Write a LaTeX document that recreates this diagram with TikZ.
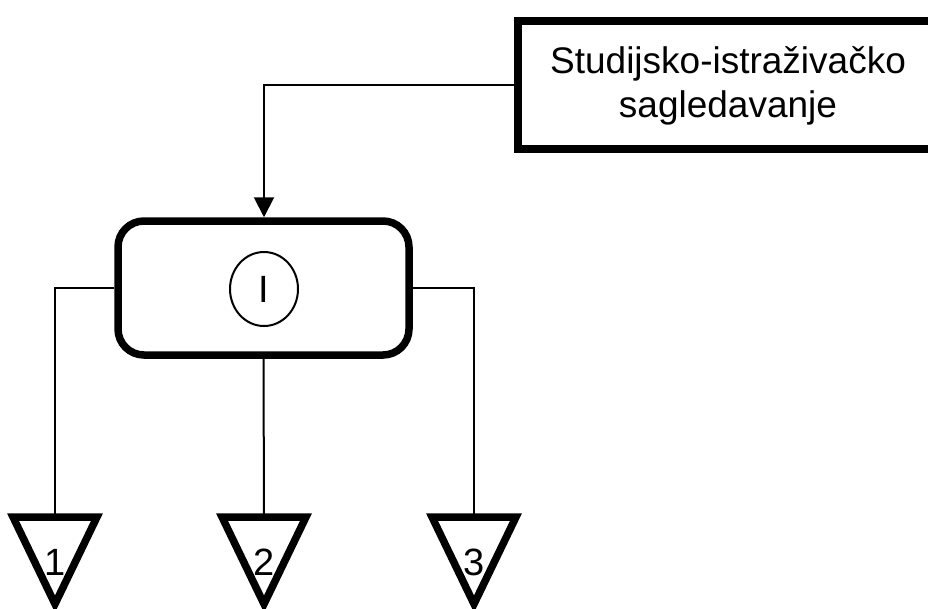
\documentclass[tikz,border=0pt]{standalone}
\usepackage{fontspec}
\setmainfont{Liberation Sans}
\usetikzlibrary{arrows.meta,calc,shapes.geometric}

\tikzset{
  heavy/.style={draw=black, line width=7.5pt},
  wire/.style={draw=black, line width=2pt},
  lbl/.style={font=\fontsize{37}{44}\selectfont, align=center, inner sep=0pt},
  numlbl/.style={font=\fontsize{38}{44}\selectfont, inner sep=0pt},
}

\begin{document}
\begin{tikzpicture}[x=1pt, y=-1pt]
  \useasboundingbox (0,0) rectangle (928,608);
  \clip (0,0) rectangle (928,608);

  % source box at the top right (runs past the edge)
  \node[heavy, rectangle, minimum width=442pt, minimum height=128pt, inner sep=0pt] (src) at (739,85) {};
  \node[lbl] (srctext) at (728,86) {Studijsko-istraživačko\\sagledavanje};

  % central rounded block with the circled mark
  \node[heavy, rectangle, rounded corners=26pt, minimum width=291pt, minimum height=134pt, inner sep=0pt] (blk) at (263.5,288) {};
  \node[draw=black, line width=2pt, ellipse, minimum width=68pt, minimum height=74pt, inner sep=0pt] (mark) at (264,289) {};
  \node[numlbl] (marktext) at (264,289) {I};

  % feed from the source box into the block
  \coordinate (bend) at (264,85);
  \draw[wire, -{Triangle[length=20pt,width=20pt]}] (src.west) -- (bend) -- (blk.north -| bend);

  % output triangles
  \foreach \name/\cx/\num in {o1/55/1, o2/264/2, o3/474/3}{
    \coordinate (\name-l) at (\cx-42,517);
    \coordinate (\name-r) at (\cx+42,517);
    \coordinate (\name-t) at (\cx,604);
    \coordinate (\name-in) at (\cx,517);
    \draw[heavy, line join=miter] (\name-l) -- (\name-r) -- (\name-t) -- cycle;
    \node[numlbl] (\name-num) at (\cx,562) {\num};
  }

  % connectors from the block down to the triangles
  \draw[wire] (blk.west) -- (blk.west -| o1-in) -- (o1-in);
  \draw[wire] (blk.south) -- (o2-in);
  \draw[wire] (blk.east) -- (blk.east -| o3-in) -- (o3-in);
\end{tikzpicture}
\end{document}
